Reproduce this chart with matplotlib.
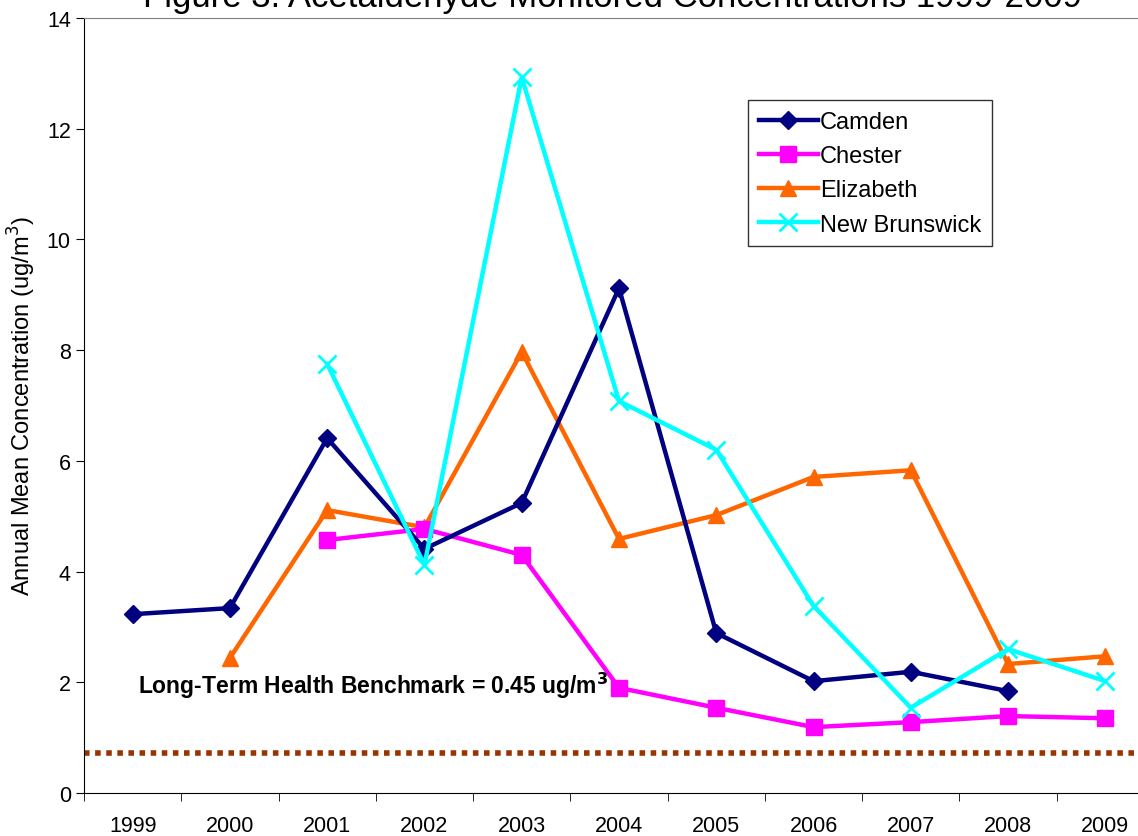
import matplotlib
matplotlib.use("Agg")
import matplotlib.pyplot as plt
import numpy as np

plt.rcParams['font.family'] = ['Liberation Sans', 'DejaVu Sans']

years = ['1999', '2000', '2001', '2002', '2003', '2004', '2005', '2006', '2007', '2008', '2009']
camden = [3.23, 3.34, 6.41, 4.41, 5.24, 9.12, 2.89, 2.02, 2.19, 1.84, None]
chester = [None, None, 4.57, 4.77, 4.30, 1.90, 1.54, 1.19, 1.28, 1.39, 1.35]
elizabeth = [None, 2.44, 5.11, 4.80, 7.97, 4.59, 5.02, 5.71, 5.83, 2.33, 2.47]
new_brunswick = [None, None, 7.75, 4.12, 12.93, 7.08, 6.20, 3.38, 1.54, 2.60, 2.02]
benchmark = 0.73

def arr(v):
    return np.array([np.nan if x is None else x for x in v], dtype=float)

fig = plt.figure(figsize=(11.38, 8.37), dpi=100)
ax = fig.add_axes([84 / 1138, 43 / 837, 1070 / 1138, 775 / 837])

x = np.arange(len(years))
ax.plot(x, arr(camden), color='#000080', lw=3.2, marker='D', ms=9, label='Camden', zorder=5)
ax.plot(x, arr(chester), color='#FF00FF', lw=3.2, marker='s', ms=12, label='Chester', zorder=4)
ax.plot(x, arr(elizabeth), color='#FF6600', lw=3.2, marker='^', ms=12, label='Elizabeth', zorder=3)
ax.plot(x, arr(new_brunswick), color='#00FFFF', lw=3.2, marker='x', ms=13, mew=2, label='New Brunswick', zorder=6)

ax.axhline(benchmark, color='#993300', lw=4, ls=(0, (1, 1)), zorder=2)
ax.text(0.05, 1.95, 'Long-Term Health Benchmark = 0.45 ug/m$^\\mathbf{3}$', fontsize=16.5,
        fontweight='bold', va='center', zorder=10)

ax.set_xlim(-0.5, len(years) - 0.5)
ax.set_ylim(0, 14)
ax.set_yticks(np.arange(0, 15, 2))
ax.set_xticks(x)
ax.set_xticklabels(years)
ax.set_xticks(np.arange(-0.5, len(years), 1), minor=True)
ax.tick_params(axis='x', which='major', length=0, labelsize=15.5, pad=16)
ax.tick_params(axis='x', which='minor', length=6, direction='out')
ax.tick_params(axis='y', labelsize=15.5, length=6, direction='out')
ax.set_ylabel('Annual Mean Concentration (ug/m$^3$)', fontsize=17, labelpad=6)

ax.spines['top'].set_color('#808080')
ax.spines['right'].set_visible(False)

leg = ax.legend(loc='upper left', bbox_to_anchor=(0.6206, 0.894), fontsize=17, frameon=True,
                fancybox=False, edgecolor='black', handlelength=2.5, handletextpad=0.1,
                borderpad=0.45, labelspacing=0.52, borderaxespad=0)
leg.get_frame().set_linewidth(1)

fig.text(0.538, 1 - 7 / 837, 'Figure 3. Acetaldehyde Monitored Concentrations 1999-2009',
         fontsize=25, ha='center', va='baseline')

fig.savefig('out.png', dpi=100)
